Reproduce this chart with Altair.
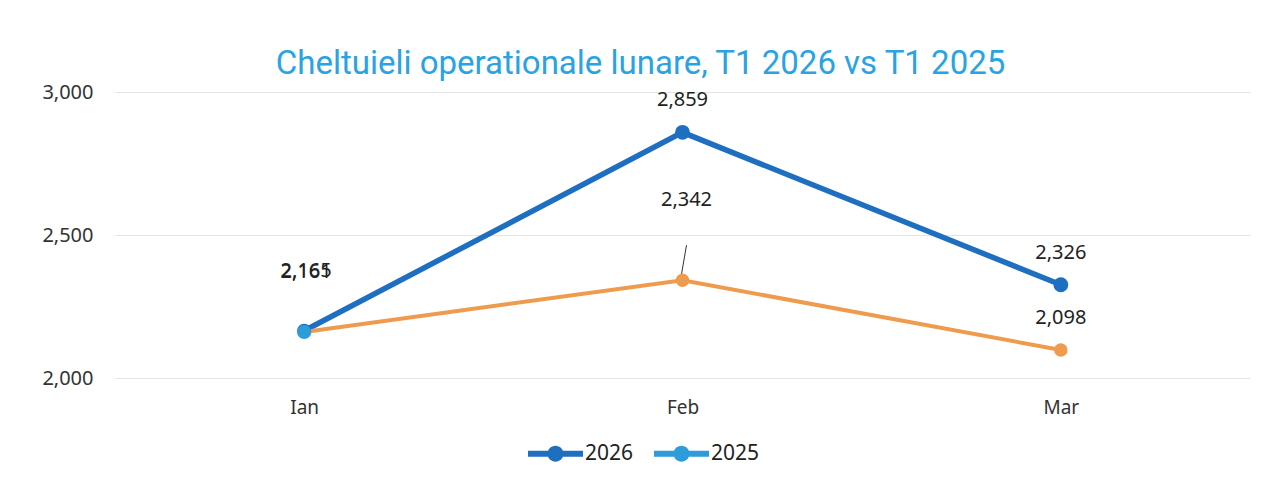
import altair as alt
import pandas as pd

months = ["Ian", "Feb", "Mar"]
series = ["2026", "2025"]
values_2026 = [2165, 2859, 2326]
values_2025 = [2161, 2342, 2098]

BLUE = "#1F6FC1"
LIGHT = "#2E9BDA"
ORANGE = "#EF9B4E"
FONT = "Noto Sans"

rows = []
for s, vals in zip(series, [values_2026, values_2025]):
    for m, v in zip(months, vals):
        rows.append({"month": m, "series": s, "value": v})
df = pd.DataFrame(rows)

x = alt.X("month:N", scale=alt.Scale(type="point", domain=months, padding=0.5),
          axis=alt.Axis(title=None, labelAngle=0, ticks=False, domain=False, grid=False,
                        labelFontSize=19, labelFont=FONT, labelColor="#333333",
                        labelPadding=20))
y = alt.Y("value:Q", scale=alt.Scale(domain=[2000, 3000], nice=False, zero=False),
          axis=alt.Axis(title=None, values=[2000, 2500, 3000], format=",.0f", ticks=False,
                        domain=False, grid=True, gridColor="#E4E4E4", gridWidth=1,
                        labelFontSize=20, labelFont=FONT, labelColor="#333333",
                        labelPadding=22))

base = alt.Chart(df)

line26 = base.transform_filter("datum.series == '2026'").mark_line(
    color=BLUE, strokeWidth=5.5).encode(x=x, y=y)
line25 = base.transform_filter("datum.series == '2025'").mark_line(
    color=ORANGE, strokeWidth=4).encode(x=x, y=y)

pts26 = base.transform_filter("datum.series == '2026' && datum.month != 'Ian'").mark_point(
    filled=True, size=220, opacity=1, color=BLUE).encode(x=x, y=y)
pts25 = base.transform_filter("datum.series == '2025' && datum.month != 'Ian'").mark_point(
    filled=True, size=180, opacity=1, color=ORANGE).encode(x=x, y=y)

legend_path = ("M-1,-0.11H1V0.11H-1Z "
               "M0.29,0A0.29,0.29,0,1,1,-0.29,0A0.29,0.29,0,1,1,0.29,0Z")

ptsJan = base.transform_filter("datum.month == 'Ian'").mark_point(
    filled=True, size=200, opacity=1).encode(
    x=x, y=y,
    color=alt.Color("series:N", scale=alt.Scale(domain=series, range=[BLUE, LIGHT]),
                    sort=series,
                    legend=alt.Legend(title=None, orient="none", direction="horizontal",
                                      legendX=413, legendY=334,
                                      symbolType=legend_path, symbolSize=3025,
                                      symbolStrokeWidth=0, symbolOpacity=1,
                                      labelFontSize=21, labelFont=FONT,
                                      labelColor="#222222", labelOffset=2,
                                      columnPadding=20)),
    order=alt.Order("series:N", sort="descending"))

text_props = dict(fontSize=20, font=FONT, color="#222222", baseline="middle", align="center")

labels_main = base.transform_filter(
    "datum.month != 'Ian' && !(datum.month == 'Feb' && datum.series == '2025')"
).mark_text(dy=-32, **text_props).encode(x=x, y=y, text=alt.Text("value:Q", format=",.0f"))
labels_jan = base.transform_filter("datum.month == 'Ian'").mark_text(
    dy=-60, dx=2, **text_props).encode(x=x, y=y, text=alt.Text("value:Q", format=",.0f"))
labels_feb25 = base.transform_filter("datum.month == 'Feb' && datum.series == '2025'").mark_text(
    dy=-80, dx=4, **text_props).encode(x=x, y=y, text=alt.Text("value:Q", format=",.0f"))

leader = base.transform_filter("datum.month == 'Feb' && datum.series == '2025'").mark_rule(
    color="#333333", strokeWidth=1, xOffset=-1, yOffset=-6, x2Offset=4, y2Offset=-35
).encode(x=x, y=y, x2=alt.X2("month:N"), y2=alt.Y2("value:Q"))

chart = alt.layer(
    line26, line25, leader, pts26, pts25, ptsJan, labels_main, labels_jan, labels_feb25
).properties(
    width=1135, height=286,
    autosize=alt.AutoSizeParams(type="none"),
    padding={"left": 107, "top": 84, "right": 6, "bottom": 99},
    title=alt.TitleParams(text="Cheltuieli operationale lunare, T1 2026 vs T1 2025",
                          anchor="middle", frame="group", dx=-42, dy=42, offset=17,
                          baseline="alphabetic", fontSize=33, font="Roboto",
                          fontWeight="normal", color="#29A3E3"),
).configure_view(stroke=None)

chart.save("out.html", embed_options={"renderer": "svg", "actions": False})
